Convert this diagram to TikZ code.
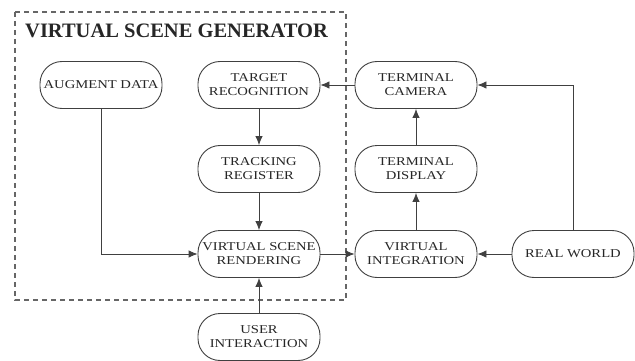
\documentclass[tikz,border=0pt]{standalone}
\usepackage{fontspec}
\setmainfont{Liberation Serif}
\newfontfamily\nodefont[FakeStretch=1.22]{Liberation Serif}
\usetikzlibrary{arrows.meta}
\tikzset{
  box/.style={draw=black!75, line width=0.9pt, rectangle, rounded corners=22pt,
    minimum width=122pt, minimum height=47pt, inner sep=0pt, align=center,
    font=\nodefont\fontsize{12}{14}\selectfont, text=black!85},
  conn/.style={draw=black!75, line width=0.9pt, -{Latex[length=9pt,width=7.5pt]}},
  frame/.style={draw=black!60, line width=1.1pt, dash pattern=on 5pt off 4pt}
}
\begin{document}
\begin{tikzpicture}[x=1pt,y=-1pt]
\useasboundingbox (0,0) rectangle (635,361);
\draw[frame] (15,12) rectangle (346,300);
\node[anchor=west, font=\bfseries\fontsize{20.5}{24}\selectfont, text=black!85, inner sep=0pt] (title) at (25,31) {VIRTUAL SCENE GENERATOR};
\node[box] (aug) at (101,85) {AUGMENT DATA};
\node[box] (tgt) at (259,85) {TARGET\\RECOGNITION};
\node[box] (trk) at (259,169) {TRACKING\\REGISTER};
\node[box] (rend) at (259,254) {VIRTUAL SCENE\\RENDERING};
\node[box] (user) at (259,337) {USER\\INTERACTION};
\node[box] (cam) at (416,85) {TERMINAL\\CAMERA};
\node[box] (disp) at (416,169) {TERMINAL\\DISPLAY};
\node[box] (integ) at (416,254) {VIRTUAL\\INTEGRATION};
\node[box] (rw) at (573,254) {REAL WORLD};
\draw[conn] (cam) -- (tgt);
\draw[conn] (tgt) -- (trk);
\draw[conn] (trk) -- (rend);
\draw[conn] (user) -- (rend);
\draw[conn] (aug.south) |- (rend.west);
\draw[conn] (rend) -- (integ);
\draw[conn] (rw) -- (integ);
\draw[conn] (integ) -- (disp);
\draw[conn] (disp) -- (cam);
\draw[conn] (rw.north) |- (cam.east);
\end{tikzpicture}
\end{document}
